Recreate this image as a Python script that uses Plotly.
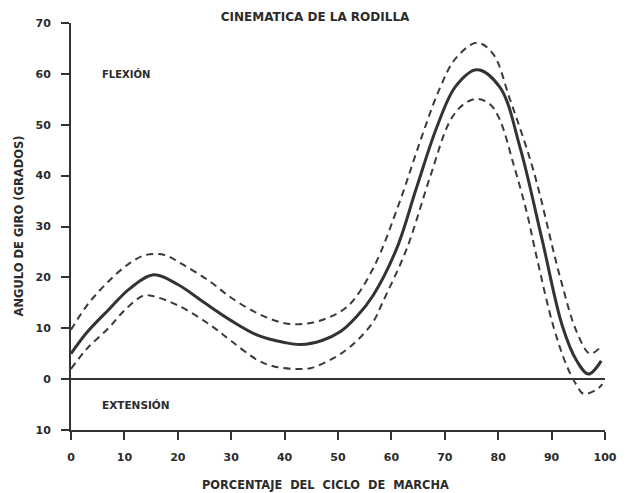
import plotly.graph_objects as go

# ---- data ----
mean_x = [0, 3, 7, 11, 15.5, 20, 25, 30, 35, 40, 43, 47, 50.4, 53.5, 56.6, 61, 64.7, 68.5, 72, 76, 80.3, 84.1, 88.2, 92, 94.7, 96.9, 99.3]
mean_y = [5.0, 9.2, 13.6, 17.8, 20.5, 18.6, 15.0, 11.5, 8.6, 7.2, 6.8, 7.6, 9.3, 12.3, 16.5, 25.7, 37.6, 49.5, 57.5, 60.8, 57.4, 45.5, 27.5, 10.5, 3.6, 1.0, 3.6]

upper_x = [0, 3, 7, 11, 14, 17.5, 21, 26, 30, 35, 40, 44, 48, 52, 56.6, 61.6, 65.4, 69, 72, 76, 79, 82.2, 86.6, 91.6, 94.7, 97.2, 99.5]
upper_y = [9.7, 14.5, 19.2, 22.8, 24.4, 24.4, 22.5, 19.2, 16, 12.9, 11, 10.9, 12, 14.5, 21.8, 35, 46.8, 57, 63, 66.1, 64, 55, 41, 20, 9.3, 5, 6.7]

lower_x = [0, 3, 7, 10, 13.5, 15, 20, 26, 30, 35, 38, 42, 45, 48, 50.4, 53.5, 56.6, 58.4, 62.9, 67.2, 71, 73.5, 76, 78.5, 80.3, 82.8, 85.3, 87.2, 90.3, 92.8, 94.7, 96, 98.5, 99.5]
lower_y = [2, 6, 10, 13.5, 16.4, 16.4, 14.5, 10.7, 7.5, 3.7, 2.5, 2, 2.2, 3.5, 4.9, 7.5, 11.3, 15.2, 25.7, 39.6, 50.8, 54, 55.1, 54, 51, 42.5, 33, 24, 10.5, 2.7, -1.2, -2.9, -2, -1]

x_ticks = [0, 10, 20, 30, 40, 50, 60, 70, 80, 90, 100]
x_tick_text = ["0", "10", "20", "30", "40", "50", "60", "70", "80", "90", "100"]
y_ticks = [-10, 0, 10, 20, 30, 40, 50, 60, 70]
y_tick_text = ["10", "0", "10", "20", "30", "40", "50", "60", "70"]

FONT = "DejaVu Sans"
INK = "#2b2b2b"

fig = go.Figure()
for xs, ys in ((upper_x, upper_y), (lower_x, lower_y)):
    fig.add_trace(go.Scatter(x=xs, y=ys, mode="lines", line=dict(color="#3a3a3a", width=2, dash="7px,5px", shape="spline", smoothing=1.0), hoverinfo="skip", showlegend=False))
fig.add_trace(go.Scatter(x=mean_x, y=mean_y, mode="lines", line=dict(color="#333333", width=3, shape="spline", smoothing=1.0), showlegend=False))

fig.update_layout(
    width=628, height=493,
    margin=dict(l=71, r=23, t=23, b=63),
    paper_bgcolor="white", plot_bgcolor="white",
    font=dict(family=FONT, color=INK, size=11),
    title=dict(text="CINEMATICA DE LA RODILLA", x=0.5016, xanchor="center", y=1 - 17 / 493, yanchor="middle",
               font=dict(family=FONT, size=12, color=INK, weight="bold")),
)
fig.update_xaxes(range=[0, 100], tickvals=x_ticks, ticktext=x_tick_text, showgrid=False, zeroline=False,
                 showline=True, linecolor="#333", linewidth=1.5, ticks="outside", ticklen=8, tickwidth=1.5, tickcolor="#333",
                 ticklabelstandoff=8, tickfont=dict(family=FONT, size=11, color=INK, weight="bold"))
fig.update_yaxes(range=[-10, 70], tickvals=y_ticks, ticktext=y_tick_text, showgrid=False,
                 zeroline=True, zerolinecolor="#333", zerolinewidth=1.5,
                 showline=True, linecolor="#333", linewidth=2, ticks="outside", ticklen=8, tickwidth=1.5, tickcolor="#333",
                 ticklabelstandoff=8, tickfont=dict(family=FONT, size=11, color=INK, weight="bold"))

fig.add_annotation(x=5.4, y=60, xref="x", yref="y", text="FLEXIÓN", showarrow=False, xanchor="left", yanchor="middle",
                   font=dict(family=FONT, size=10, color=INK, weight="bold"))
fig.add_annotation(x=5.4, y=-5, xref="x", yref="y", text="EXTENSIÓN", showarrow=False, xanchor="left", yanchor="middle",
                   font=dict(family=FONT, size=10.5, color=INK, weight="bold"))
fig.add_annotation(x=(325 - 71) / 534, y=(430 - 485) / 407, xref="paper", yref="paper", text="PORCENTAJE  DEL  CICLO  DE  MARCHA",
                   showarrow=False, xanchor="center", yanchor="middle", font=dict(family=FONT, size=11.4, color=INK, weight="bold"))
fig.add_annotation(x=(18 - 71) / 534, y=0.5, xref="paper", yref="paper", text="ANGULO DE GIRO (GRADOS)", textangle=-90,
                   showarrow=False, xanchor="center", yanchor="middle", font=dict(family=FONT, size=11.5, color=INK, weight="bold"))

fig.write_html("out.html")
